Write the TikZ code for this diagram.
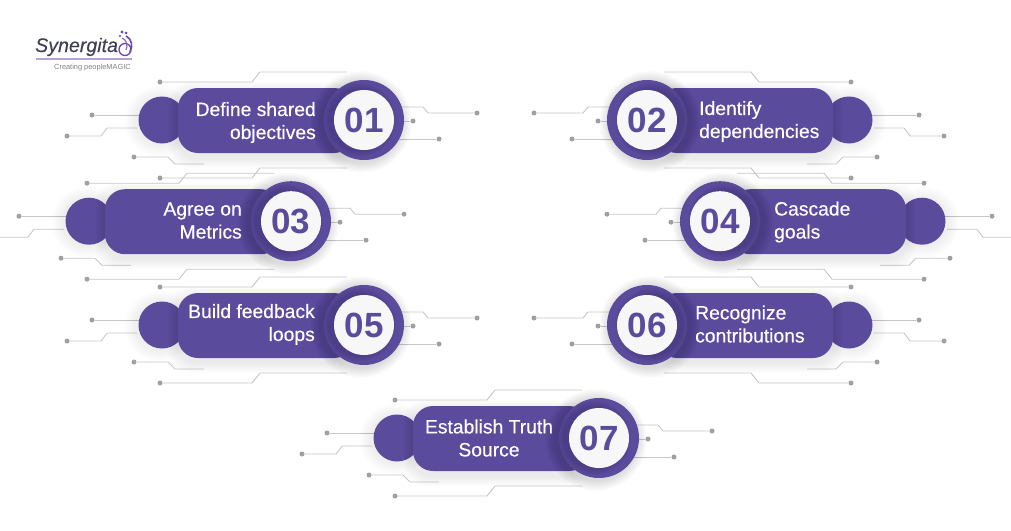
\documentclass[tikz,border=0pt]{standalone}
\usepackage{fontspec}
\setmainfont{Liberation Sans}
\newfontfamily\itemfont[FakeBold=0.35]{Liberation Sans}
\newfontfamily\brandfont[FakeBold=0.25]{Liberation Sans}
\definecolor{plum}{HTML}{5A4B9D}
\definecolor{diskwhite}{HTML}{F7F7F7}
\definecolor{wiregray}{HTML}{C6C6C6}
\definecolor{dotgray}{HTML}{A0A0A0}
\definecolor{logoink}{HTML}{3F3F58}
\definecolor{logoviolet}{HTML}{6B46B2}
\tikzset{
	wire/.style={draw=wiregray,line width=0.9pt},
	wiredot/.style={circle,fill=dotgray,inner sep=0pt,minimum size=5pt},
	itemtext/.style={text=white,font=\fontsize{19.3}{23}\itemfont\selectfont,inner sep=0pt},
	itemnumber/.style={text=plum,font=\fontsize{35}{35}\selectfont\bfseries,inner sep=0pt},
	softshade/.style={black,opacity=0.008},
}
\newcommand{\stepitem}[4]{
\begin{scope}[shift={(#1,#2)},xscale=#3,name prefix=s#4-]
	\node[wiredot] (a) at (-204,-38) {};
	\draw[wire] (a) -- (-112,-38) -- (-104,-48) -- (-17,-48);
	\node[wiredot] (b) at (-272,-5) {};
	\draw[wire] (b) -- (-224,-5);
	\node[wiredot] (c) at (-297,16) {};
	\draw[wire] (c) -- (-263,16) -- (-257,8) -- (-227,8);
	\node[wiredot] (d) at (-230,37) {};
	\draw[wire] (d) -- (-196,37) -- (-189,44) -- (-160,44);
	\node[wiredot] (e) at (-204,58) {};
	\draw[wire] (e) -- (-112,58) -- (-104,48) -- (-17,48);
	\node[wiredot] (f) at (113,-7) {};
	\draw[wire] (f) -- (64,-7) -- (59,-13) -- (30,-13);
	\node[wiredot] (g) at (49,1) {};
	\draw[wire] (g) -- (30,1);
	\node[wiredot] (h) at (75,19) {};
	\draw[wire] (h) -- (30,19);
	% soft shadow under the small disc, then the disc
	\foreach \g in {1,...,8}
		\fill[softshade] (-204,1) circle ({23.5pt+1.5pt*\g});
	\fill[plum] (-202,0) circle (23.5pt);
	% shadow of the bar
	\foreach \g in {1,...,10}
		\fill[softshade,rounded corners=20pt] (-186-\g,-32-\g+4) rectangle (-20+\g,33+\g+5);
	\fill[plum,rounded corners=20pt] (-186,-32) rectangle (-10,33);
	% ring with its shadow, darker towards the bar
	\foreach \g in {1,...,9}
		\fill[softshade,opacity=0.014] (-3,2) circle ({40pt+1.2pt*\g});
	\fill[plum] (0,0) circle (40pt);
	\begin{scope}
		\clip (0,0) circle (40pt);
		\foreach \g in {0,...,6}
			\fill[black,opacity=0.02] (-5,0) circle ({31pt+1pt*\g});
	\end{scope}
	\node[circle,fill=diskwhite,minimum size=60pt,inner sep=0pt] (disk) at (0,0) {};
	\node[itemnumber] (number) at (disk.center) {#4};
\end{scope}
}
\begin{document}
\begin{tikzpicture}[x=1pt,y=-1pt]
	\useasboundingbox (0,0) rectangle (1011,530);
	\clip (0,0) rectangle (1011,530);
	% logo
	\node[anchor=base west,inner sep=0pt,text=logoink,font=\fontsize{19.6}{20}\brandfont\itshape] (brand) at (35,52) {Synergita};
	\node[anchor=base west,inner sep=0pt,text=gray,font=\fontsize{7.4}{8}\selectfont] (tagline) at (54,69) {Creating peopleMAGIC};
	\draw[line width=1.5pt,color=logoviolet!50] (36,59) -- (132,59);
	\draw[logoviolet,line width=1.3pt] (125,49.5) circle (6pt);
	\draw[logoviolet,line width=1.6pt] (126,36) .. controls (132,39) and (133,46) .. (130,52);
	\draw[logoviolet!80,line width=1.2pt] (122,38) .. controls (127,40) and (128,46) .. (126,50);
	\fill[logoviolet] (122,32) circle (1.7pt);
	\fill[logoviolet] (126,33) circle (1.5pt);
	\fill[logoviolet!80] (120,36) circle (1.3pt);
	% steps
	\stepitem{364}{120}{1}{01}
	\stepitem{647}{120}{-1}{02}
	\stepitem{291}{221.2}{1}{03}
	\stepitem{720}{221.2}{-1}{04}
	\stepitem{364}{325}{1}{05}
	\stepitem{647}{325}{-1}{06}
	\stepitem{599}{438}{1}{07}
	\node[itemtext,anchor=east,align=right] (text01) at (316,122.5) {Define shared\\objectives};
	\node[itemtext,anchor=west,align=left] (text02) at (699,121.5) {Identify\\dependencies};
	\node[itemtext,anchor=east,align=right] (text03) at (242,220.5) {Agree on\\Metrics};
	\node[itemtext,anchor=west,align=left] (text04) at (774,222) {Cascade\\goals};
	\node[itemtext,anchor=east,align=right] (text05) at (315,324.5) {Build feedback\\loops};
	\node[itemtext,anchor=west,align=left] (text06) at (695,324) {Recognize\\contributions};
	\node[itemtext,align=center] (text07) at (489,438) {Establish Truth\\Source};
\end{tikzpicture}
\end{document}
